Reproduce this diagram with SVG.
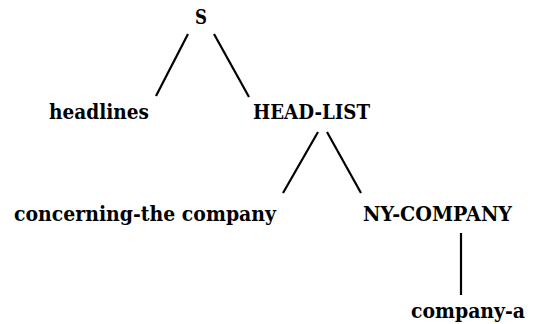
<svg xmlns="http://www.w3.org/2000/svg" width="542" height="324" viewBox="0 0 542 324">
<style>
text{font-family:"DejaVu Serif","Liberation Serif",serif;font-weight:bold;font-size:19.5px;fill:#000}
line{stroke:#000;stroke-width:2.2;stroke-linecap:butt}
</style>
<rect width="542" height="324" fill="#fff"/>
<g id="connectors">
<line x1="188" y1="34" x2="156" y2="96"/>
<line x1="214" y1="34" x2="249" y2="97"/>
<line x1="318" y1="132" x2="283" y2="193"/>
<line x1="327" y1="132" x2="361" y2="193"/>
<line x1="461" y1="233" x2="461" y2="295"/>
</g>
<g id="S"><text x="195" y="24" textLength="12" lengthAdjust="spacingAndGlyphs">S</text></g>
<g id="headlines"><text x="49" y="119" textLength="100" lengthAdjust="spacingAndGlyphs">headlines</text></g>
<g id="head-list"><text x="253" y="119" textLength="117" lengthAdjust="spacingAndGlyphs">HEAD-LIST</text></g>
<g id="concerning"><text x="14" y="221" textLength="262" lengthAdjust="spacingAndGlyphs">concerning-the company</text></g>
<g id="ny-company"><text x="363" y="221" textLength="149" lengthAdjust="spacingAndGlyphs">NY-COMPANY</text></g>
<g id="company-a"><text x="411" y="318" textLength="114" lengthAdjust="spacingAndGlyphs">company-a</text></g>
</svg>
